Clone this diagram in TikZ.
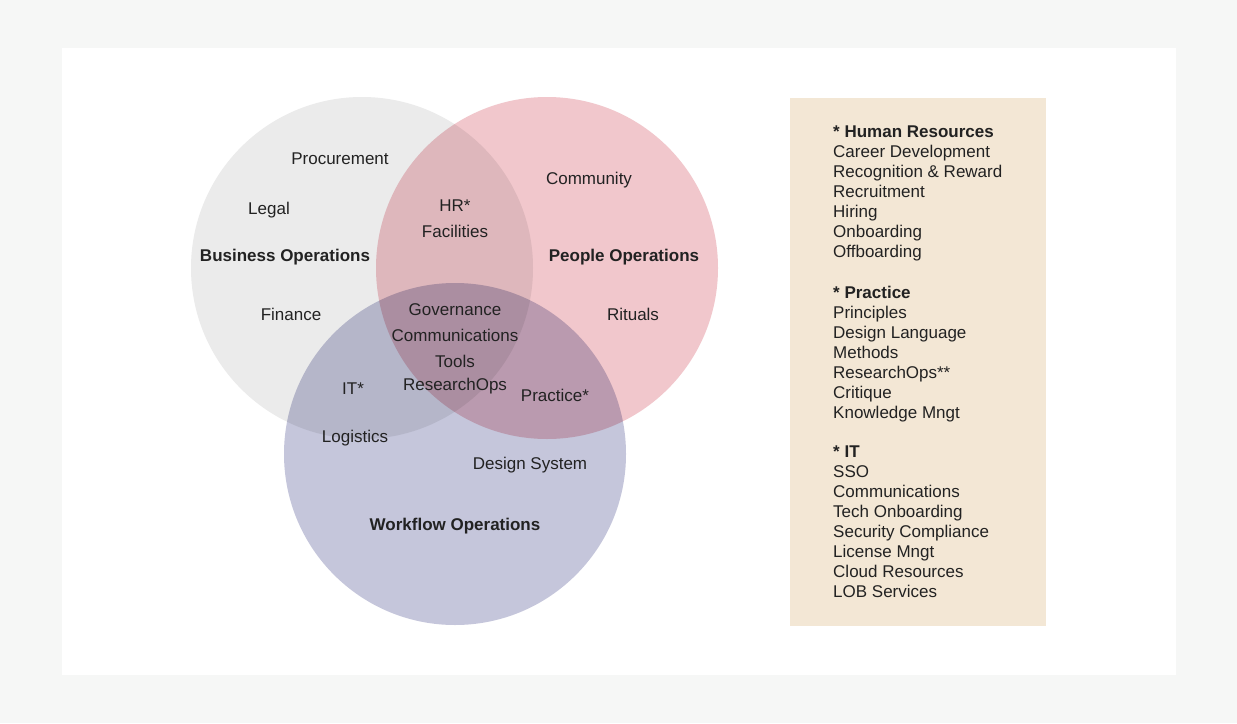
\documentclass[tikz,border=0pt]{standalone}
\usepackage{fontspec}
\setmainfont{Liberation Sans}
\usepackage{tikz}
\definecolor{pagebg}{RGB}{246,247,246}
\definecolor{bizgray}{RGB}{235,235,235}
\definecolor{peoplepink}{RGB}{241,199,204}
\definecolor{flowblue}{RGB}{197,198,219}
\definecolor{notebg}{RGB}{243,231,213}
\definecolor{ink}{RGB}{34,34,34}
\tikzset{
every node/.style={text=ink, inner sep=0pt, font=\fontsize{17}{20}\selectfont},
venn/.style={circle, minimum size=342pt, blend mode=multiply},
item/.style={},
heading/.style={font=\fontsize{17}{20}\selectfont\bfseries},
listtext/.style={anchor=north west, align=left}
}

\begin{document}
\begin{tikzpicture}[x=1pt,y=-1pt]
\fill[pagebg] (0,0) rectangle (1237,723);
\fill[white] (62,48) rectangle (1176,675);
\useasboundingbox (0,0) rectangle (1237,723);

\node[venn, fill=bizgray] (biz) at (362,268) {};
\node[venn, fill=peoplepink] (people) at (547,268) {};
\node[venn, fill=flowblue] (flow) at (455,454) {};

\node[item] (procurement) at (340,159) {Procurement};
\node[item] (legal) at (269,210) {Legal};
\node[heading] (bizlabel) at (285,257) {Business Operations};
\node[item] (finance) at (291,314) {Finance};

\node[item] (hr) at (455,206) {HR*};
\node[item] (facilities) at (455,231) {Facilities};

\node[item] (community) at (589,180) {Community};
\node[heading] (peoplelabel) at (624,257) {People Operations};
\node[item] (rituals) at (633,314) {Rituals};

\node[item] (governance) at (455,310) {Governance};
\node[item] (comms) at (455,335) {Communications};
\node[item] (tools) at (455,361) {Tools};
\node[item] (researchops) at (455,386) {ResearchOps};

\node[item] (it) at (353,389) {IT*};
\node[item] (practice) at (555,395) {Practice*};
\node[item] (logistics) at (355,438) {Logistics};
\node[item] (designsys) at (530,465) {Design System};
\node[heading] (flowlabel) at (455,526) {Workflow Operations};

\node[fill=notebg, minimum width=256pt, minimum height=528pt, anchor=north west] (notes) at (790,98) {};
\node[listtext] (hrlist) at (833,126) {\textbf{* Human Resources}\\Career Development\\Recognition \& Reward\\Recruitment\\Hiring\\Onboarding\\Offboarding};
\node[listtext] (practicelist) at (833,286) {\textbf{* Practice}\\Principles\\Design Language\\Methods\\ResearchOps**\\Critique\\Knowledge Mngt};
\node[listtext] (itlist) at (833,446) {\textbf{* IT}\\SSO\\Communications\\Tech Onboarding\\Security Compliance\\License Mngt\\Cloud Resources\\LOB Services};
\end{tikzpicture}
\end{document}
